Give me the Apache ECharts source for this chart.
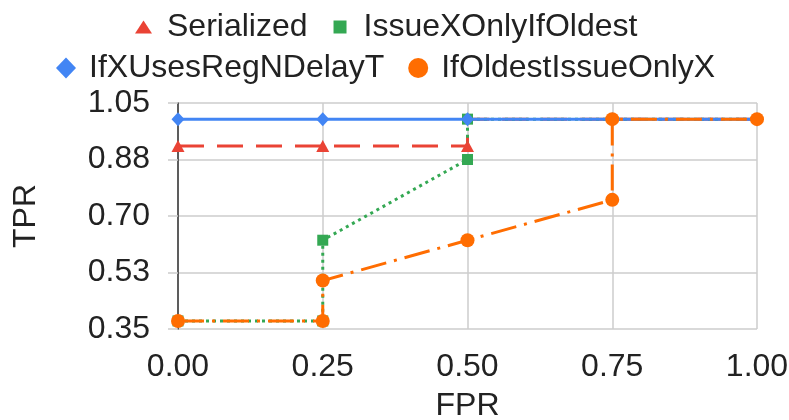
<!DOCTYPE html>
<html>
<head>
<meta charset="utf-8">
<script src="https://cdn.jsdelivr.net/npm/echarts@6/dist/echarts.min.js"></script>
<style>
html,body{margin:0;padding:0;background:#fff;}
#chart{width:789px;height:420px;}
</style>
</head>
<body>
<div id="chart"></div>
<script>
// ---- data ----
const xTickLabels = ['0.00', '0.25', '0.50', '0.75', '1.00'];
const yTickLabels = ['0.35', '0.53', '0.70', '0.88', '1.05'];

const seriesNames = ['Serialized', 'IssueXOnlyIfOldest', 'IfXUsesRegNDelayT', 'IfOldestIssueOnlyX'];

const serializedFPR = [0, 0.25, 0.5, 0.5, 1.0];
const serializedTPR = [0.917, 0.917, 0.917, 1.0, 1.0];
const serializedMarked = [true, true, true, false, false];

const issueXFPR = [0, 0.25, 0.25, 0.5, 0.5, 1.0];
const issueXTPR = [0.375, 0.375, 0.625, 0.875, 1.0, 1.0];
const issueXMarked = [true, true, true, true, true, false];

const ifXUsesFPR = [0, 0.25, 0.5, 0.75, 1.0];
const ifXUsesTPR = [1.0, 1.0, 1.0, 1.0, 1.0];
const ifXUsesMarked = [true, true, true, true, true];

const ifOldestFPR = [0, 0.25, 0.25, 0.5, 0.75, 0.75, 1.0];
const ifOldestTPR = [0.375, 0.375, 0.5, 0.625, 0.75, 1.0, 1.0];
const ifOldestMarked = [true, true, true, true, true, true, true];

// ---- build ----
function pts(xs, ys, marked) {
  return xs.map((x, i) => marked[i] ? [x, ys[i]] : { value: [x, ys[i]], symbol: 'none' });
}
const FONT = 'Liberation Sans, Arial, sans-serif';
const TXT = '#222222';

const chart = echarts.init(document.getElementById('chart'), null, { renderer: 'canvas' });
chart.setOption({
  animation: false,
  backgroundColor: '#ffffff',
  legend: [
    {
      left: 135, top: 11, padding: 0,
      itemWidth: 17, itemHeight: 13, itemGap: 26,
      textStyle: { fontSize: 32, color: TXT, fontFamily: FONT, padding: [0, 0, 0, 10] },
      data: [
        { name: seriesNames[0], icon: 'triangle' },
        { name: seriesNames[1], icon: 'path://M0,0H10V10H0Z' }
      ]
    },
    {
      left: 56, top: 52, padding: 0,
      itemWidth: 20, itemHeight: 21, itemGap: 24,
      textStyle: { fontSize: 32, color: TXT, fontFamily: FONT, padding: [0, 0, 0, 8] },
      data: [
        { name: seriesNames[2], icon: 'diamond' },
        { name: seriesNames[3], icon: 'circle' }
      ]
    }
  ],
  grid: { left: 178, right: 32, top: 103, bottom: 91, containLabel: false, outerBoundsMode: 'none' },
  xAxis: {
    type: 'value', min: 0, max: 1, interval: 0.25,
    name: 'FPR', nameLocation: 'middle', nameGap: 61,
    nameTextStyle: { fontSize: 32, color: TXT, fontFamily: FONT },
    axisLine: { show: false },
    axisTick: { show: false },
    axisLabel: {
      margin: 22, fontSize: 32, color: TXT, fontFamily: FONT,
      formatter: v => xTickLabels[Math.round(v / 0.25)]
    },
    splitLine: { show: true, lineStyle: { color: '#cccccc', width: 1.5 } }
  },
  yAxis: {
    type: 'value', min: 0.35, max: 1.05, interval: 0.175,
    name: 'TPR', nameLocation: 'middle', nameGap: 136,
    nameTextStyle: { fontSize: 32, color: TXT, fontFamily: FONT },
    axisLine: { show: true, lineStyle: { color: '#333333', width: 1.5 } },
    axisTick: { show: true, length: 10, lineStyle: { color: '#cccccc', width: 1.5 } },
    axisLabel: {
      margin: 28, fontSize: 32, color: TXT, fontFamily: FONT,
      formatter: v => yTickLabels[Math.round((v - 0.35) / 0.175)]
    },
    splitLine: { show: true, lineStyle: { color: '#cccccc', width: 1.5 } }
  },
  series: [
    {
      name: seriesNames[0], type: 'line',
      data: pts(serializedFPR, serializedTPR, serializedMarked),
      symbol: 'triangle', symbolSize: [13, 12],
      itemStyle: { color: '#EA4335' },
      lineStyle: { color: '#EA4335', width: 3, type: [26, 13] }
    },
    {
      name: seriesNames[1], type: 'line',
      data: pts(issueXFPR, issueXTPR, issueXMarked),
      symbol: 'rect', symbolSize: 11,
      itemStyle: { color: '#34A853' },
      lineStyle: { color: '#34A853', width: 3, type: [3, 4] }
    },
    {
      name: seriesNames[2], type: 'line',
      data: pts(ifXUsesFPR, ifXUsesTPR, ifXUsesMarked),
      symbol: 'diamond', symbolSize: [13, 14],
      itemStyle: { color: '#4285F4' },
      lineStyle: { color: '#4285F4', width: 3, type: 'solid' }
    },
    {
      name: seriesNames[3], type: 'line',
      data: pts(ifOldestFPR, ifOldestTPR, ifOldestMarked),
      symbol: 'circle', symbolSize: 14,
      itemStyle: { color: '#FF6D01' },
      lineStyle: { color: '#FF6D01', width: 3, type: [26, 8, 3, 8] }
    }
  ]
});
</script>
</body>
</html>
